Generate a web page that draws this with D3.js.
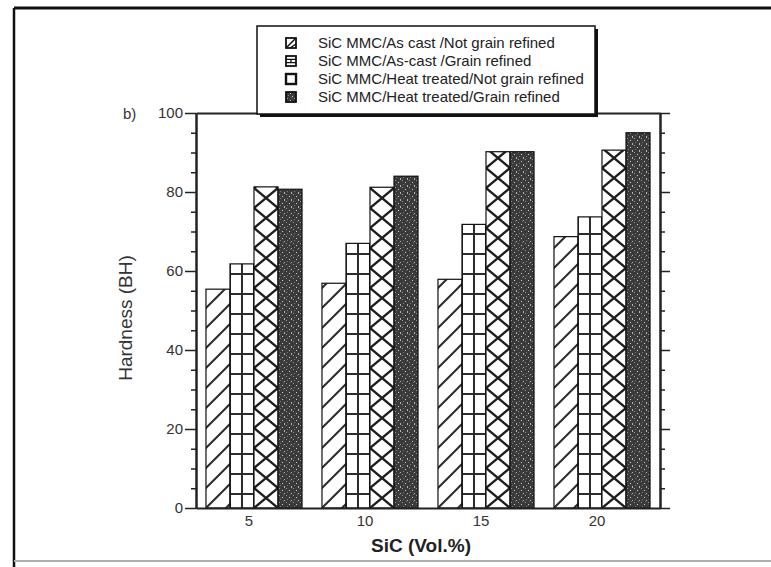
<!DOCTYPE html>
<html>
<head>
<meta charset="utf-8">
<script src="https://cdn.jsdelivr.net/npm/d3@7"></script>
<style>
  body { margin: 0; background: #fff; }
  svg { display: block; }
  text { font-family: "Liberation Sans", Arial, sans-serif; }
</style>
</head>
<body>
<svg id="chart" width="771" height="567"></svg>
<script>
// SiC content (vol.%) on the x axis
const categories = ["5", "10", "15", "20"];
const seriesNames = [
  "SiC MMC/As cast /Not grain refined",
  "SiC MMC/As-cast /Grain refined",
  "SiC MMC/Heat treated/Not grain refined",
  "SiC MMC/Heat treated/Grain refined"
];
// Hardness (BH) per series, one value per SiC content
const asCastNotRefined      = [55.4, 56.9, 57.9, 68.7];
const asCastRefined         = [61.8, 67.0, 71.8, 73.7];
const heatTreatedNotRefined = [81.3, 81.2, 90.2, 90.6];
const heatTreatedRefined    = [80.7, 84.0, 90.2, 95.0];
const yTicks = [0, 20, 40, 60, 80, 100];
const yMinorTicks = [5, 10, 15, 25, 30, 35, 45, 50, 55, 65, 70, 75, 85, 90, 95];

const seriesValues = [asCastNotRefined, asCastRefined, heatTreatedNotRefined, heatTreatedRefined];
const patternIds = ["pat-diag", "pat-grid", "pat-cross", "pat-dark"];

const svg = d3.select("#chart");
const ink = "#222";

const plotLeft = 196, plotRight = 660, plotTop = 113, plotBottom = 508;

const x0 = d3.scaleBand().domain(categories).range([plotLeft, plotRight])
  .paddingInner(0.172).paddingOuter(0.086);
const x1 = d3.scaleBand().domain(d3.range(seriesNames.length)).range([0, x0.bandwidth()]);
const y = d3.scaleLinear().domain([0, 100]).range([plotBottom, plotTop]);

// ---- fill patterns ----
const defs = svg.append("defs");

const diag = defs.append("pattern").attr("id", "pat-diag")
  .attr("patternUnits", "userSpaceOnUse").attr("width", 20).attr("height", 20);
diag.append("rect").attr("width", 20).attr("height", 20).attr("fill", "#fff");
diag.append("path").attr("d", "M0,20L20,0M-5,5L5,-5M15,25L25,15")
  .attr("stroke", "#2b2b2b").attr("stroke-width", 2).attr("fill", "none");

const grid = defs.append("pattern").attr("id", "pat-grid")
  .attr("patternUnits", "userSpaceOnUse").attr("width", 12).attr("height", 20).attr("y", 5);
grid.append("rect").attr("width", 12).attr("height", 20).attr("fill", "#fff");
grid.append("path").attr("d", "M0,0V20M12,0V20M0,1H12")
  .attr("stroke", "#2b2b2b").attr("stroke-width", 2).attr("fill", "none");

const cross = defs.append("pattern").attr("id", "pat-cross")
  .attr("patternUnits", "userSpaceOnUse").attr("width", 24).attr("height", 20);
cross.append("rect").attr("width", 24).attr("height", 20).attr("fill", "#fff");
cross.append("path").attr("d", "M0,0L24,20M24,0L0,20")
  .attr("stroke", "#1e1e1e").attr("stroke-width", 2.4).attr("fill", "none");

const dark = defs.append("pattern").attr("id", "pat-dark")
  .attr("patternUnits", "userSpaceOnUse").attr("width", 7).attr("height", 7);
dark.append("rect").attr("width", 7).attr("height", 7).attr("fill", "#3a3a3a");
[[1, 1, "#9a9a9a"], [4, 3, "#d0d0d0"], [2, 5, "#7c7c7c"], [6, 6, "#b5b5b5"], [5, 0, "#6a6a6a"]]
  .forEach(([dx, dy, c]) => dark.append("rect").attr("x", dx).attr("y", dy)
    .attr("width", 1).attr("height", 1).attr("fill", c));

// ---- outer frame ----
svg.append("line").attr("x1", 14).attr("x2", 771).attr("y1", 8).attr("y2", 8)
  .attr("stroke", "#111").attr("stroke-width", 3);
svg.append("line").attr("x1", 14).attr("x2", 14).attr("y1", 8).attr("y2", 567)
  .attr("stroke", "#111").attr("stroke-width", 2.5);
svg.append("line").attr("x1", 14).attr("x2", 771).attr("y1", 561).attr("y2", 561)
  .attr("stroke", "#b0b0b0").attr("stroke-width", 2);

// ---- bars ----
const groups = svg.append("g").selectAll("g")
  .data(categories).join("g");

groups.selectAll("g")
  .data((c, ci) => seriesValues.map((vals, si) => ({ cat: c, si, v: vals[ci] })))
  .join("g")
  .attr("transform", d => `translate(${x0(d.cat) + x1(d.si)},${y(0)})`)
  .append("rect")
  .attr("x", 0)
  .attr("y", d => y(d.v) - y(0))
  .attr("width", x1.bandwidth())
  .attr("height", d => y(0) - y(d.v))
  .attr("fill", d => `url(#${patternIds[d.si]})`)
  .attr("stroke", "#111")
  .attr("stroke-width", 1.2);

// ---- axes ----
function styleAxis(g) {
  g.selectAll(".domain").attr("stroke", ink).attr("stroke-width", 2);
  g.selectAll(".tick line").attr("stroke", ink).attr("stroke-width", 1.5);
  g.selectAll("text").attr("font-size", 15).attr("fill", "#333")
    .attr("font-family", "'Liberation Sans', Arial, sans-serif");
}

svg.append("g").attr("transform", `translate(${plotLeft},0)`)
  .call(d3.axisLeft(y).tickValues(yMinorTicks).tickSize(5).tickFormat("").tickSizeOuter(0))
  .call(styleAxis);
svg.append("g").attr("transform", `translate(${plotLeft},0)`)
  .call(d3.axisLeft(y).tickValues(yTicks).tickSize(11).tickPadding(2).tickSizeOuter(0))
  .call(styleAxis);

svg.append("g").attr("transform", `translate(${plotRight},0)`)
  .call(d3.axisRight(y).tickValues(yMinorTicks).tickSize(5).tickFormat("").tickSizeOuter(0))
  .call(styleAxis);
svg.append("g").attr("transform", `translate(${plotRight},0)`)
  .call(d3.axisRight(y).tickValues(yTicks).tickSize(10).tickFormat("").tickSizeOuter(0))
  .call(styleAxis);

svg.append("g").attr("transform", `translate(0,${plotTop})`)
  .call(d3.axisTop(x0).tickSize(0).tickFormat("").tickSizeOuter(0))
  .call(styleAxis);

svg.append("g").attr("transform", `translate(0,${plotBottom})`)
  .call(d3.axisBottom(x0).tickSize(0).tickPadding(7).tickSizeOuter(0))
  .call(styleAxis)
  .call(g => g.selectAll("text").attr("dx", -5));

// ---- titles ----
svg.append("text")
  .attr("transform", `translate(132,318) rotate(-90)`)
  .attr("text-anchor", "middle")
  .attr("font-size", 19).attr("fill", "#333")
  .text("Hardness (BH)");

svg.append("text")
  .attr("x", 421).attr("y", 552)
  .attr("text-anchor", "middle")
  .attr("font-size", 19).attr("font-weight", "bold").attr("fill", "#222")
  .text("SiC (Vol.%)");

svg.append("text")
  .attr("x", 123).attr("y", 119)
  .attr("font-size", 15).attr("fill", "#333")
  .text("b)");

// ---- legend ----
const lg = svg.append("g");
const lgX = 257, lgY = 26, lgW = 338, lgH = 88;
lg.append("rect").attr("x", lgX + 3).attr("y", lgY + 3).attr("width", lgW).attr("height", lgH)
  .attr("fill", "#111");
lg.append("rect").attr("x", lgX).attr("y", lgY).attr("width", lgW).attr("height", lgH)
  .attr("fill", "#fff").attr("stroke", "#111").attr("stroke-width", 1.5);

const rowY = d3.scalePoint().domain(d3.range(seriesNames.length)).range([43, 97]);
const items = lg.selectAll("g.item").data(seriesNames).join("g")
  .attr("class", "item")
  .attr("transform", (d, i) => `translate(286,${rowY(i)})`);

const sw = 10;
items.append("rect")
  .attr("x", 0).attr("y", -sw / 2).attr("width", sw).attr("height", sw)
  .attr("fill", (d, i) => i === 3 ? "url(#pat-dark)" : "#fff")
  .attr("stroke", "#111").attr("stroke-width", (d, i) => i === 2 ? 2.4 : 1.8);
items.filter((d, i) => i === 0).append("path")
  .attr("d", `M1,${sw / 2 - 1}L${sw - 1},${-sw / 2 + 1}M4,${sw / 2}L${sw},${1}`)
  .attr("stroke", "#111").attr("stroke-width", 1.5).attr("fill", "none");
items.filter((d, i) => i === 1).append("path")
  .attr("d", `M0,-1.7H${sw}M0,1.7H${sw}M${sw / 2},-1.7V1.7`)
  .attr("stroke", "#111").attr("stroke-width", 1.3).attr("fill", "none");

items.append("text")
  .attr("x", 32).attr("y", 5.3)
  .attr("font-size", 15).attr("fill", "#222")
  .text(d => d);
</script>
</body>
</html>
